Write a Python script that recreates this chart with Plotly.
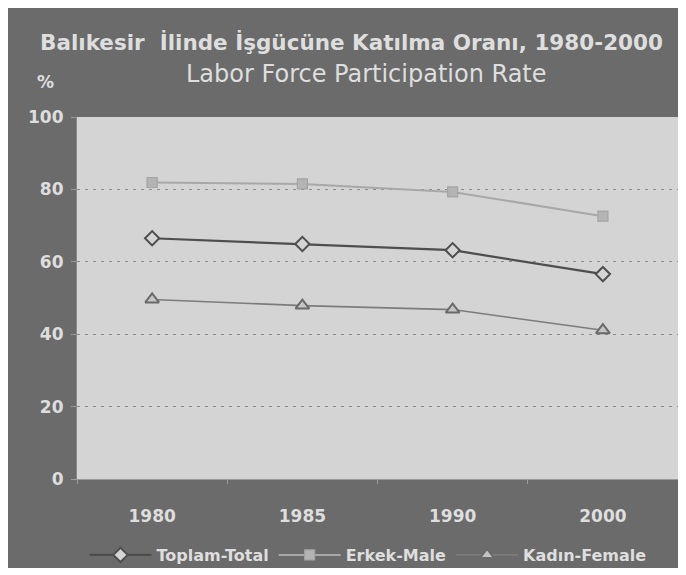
import plotly.graph_objects as go

years = ["1980", "1985", "1990", "2000"]
total = [66.5, 64.9, 63.2, 56.6]
male = [81.9, 81.5, 79.3, 72.6]
female = [49.6, 47.9, 46.8, 41.1]
y_ticks = [0, 20, 40, 60, 80, 100]

title_tr = "Balıkesir  İlinde İşgücüne Katılma Oranı, 1980-2000"
title_en = "Labor Force Participation Rate"

# the page body has an 8px margin, so the figure starts at (8, 8)
OFF = 8
W, H = 686 - OFF, 575 - OFF
L, R, T, B = 77 - OFF, 8, 117 - OFF, 96
pw, ph = W - L - R, H - T - B

def px(x):  # page x -> paper x
    return (x - OFF - L) / pw

def py(y):  # page y -> paper y
    return (H - B - (y - OFF)) / ph

fig = go.Figure()
fig.add_trace(go.Scatter(
    x=years, y=total, name="Toplam-Total", mode="lines+markers",
    line=dict(color="#4e4e4e", width=2.2),
    marker=dict(symbol="diamond", size=11, color="#d4d4d4",
                line=dict(color="#4e4e4e", width=2))))
fig.add_trace(go.Scatter(
    x=years, y=male, name="Erkek-Male", mode="lines+markers",
    line=dict(color="#a8a8a8", width=2),
    marker=dict(symbol="square", size=10, color="#b4b4b4",
                line=dict(color="#a4a4a4", width=1.2))))
fig.add_trace(go.Scatter(
    x=years, y=female, name="Kadın-Female", mode="lines+markers",
    line=dict(color="#7c7c7c", width=1.6),
    marker=dict(symbol="triangle-up", size=12, color="#c4c4c4",
                line=dict(color="#6a6a6a", width=2))))

font = "DejaVu Sans, sans-serif"
txt = "#dedede"

fig.update_layout(
    width=W, height=H,
    margin=dict(l=L, r=R, t=T, b=B, autoexpand=False),
    paper_bgcolor="#6b6b6b",
    plot_bgcolor="#d4d4d4",
    font=dict(family=font, color=txt),
    showlegend=True,
    legend=dict(orientation="h", x=px(368), xanchor="center", y=py(555), yanchor="middle",
                font=dict(size=16, color=txt, family=font, weight="bold"),
                bgcolor="rgba(0,0,0,0)", itemwidth=62, tracegroupgap=0),
    xaxis=dict(type="category", range=[-0.5, 3.5], showgrid=False, zeroline=False,
               showline=True, linecolor="#9a9a9a", linewidth=1,
               ticks="outside", tickson="boundaries", ticklen=4, tickcolor="#9a9a9a",
               tickfont=dict(size=17, color=txt, family=font, weight="bold"),
               ticklabelstandoff=22),
    yaxis=dict(range=[0, 100], tickvals=y_ticks, showgrid=True,
               gridcolor="#8c8c8c", griddash="3px,5px", gridwidth=1.3,
               zeroline=False, showline=True, linecolor="#8a8a8a", linewidth=1.2,
               ticks="outside", ticklen=5, tickcolor="#9a9a9a",
               tickfont=dict(size=17, color=txt, family=font, weight="bold"),
               ticklabelstandoff=4),
    annotations=[
        dict(text=title_tr, xref="paper", yref="paper", x=px(38), y=py(43),
             xanchor="left", yanchor="middle", showarrow=False,
             font=dict(size=21.5, color=txt, family=font, weight="bold")),
        dict(text=title_en, xref="paper", yref="paper", x=px(366), y=py(74),
             xanchor="center", yanchor="middle", showarrow=False,
             font=dict(size=24, color=txt, family=font)),
        dict(text="%", xref="paper", yref="paper", x=px(45), y=py(82),
             xanchor="center", yanchor="middle", showarrow=False,
             font=dict(size=17, color=txt, family=font, weight="bold")),
    ],
    shapes=[
        dict(type="rect", xref="paper", yref="paper", x0=px(OFF), x1=px(686), y0=py(575), y1=py(568),
             fillcolor="white", line=dict(width=0), layer="above"),
    ],
)

fig.write_html("out.html")
